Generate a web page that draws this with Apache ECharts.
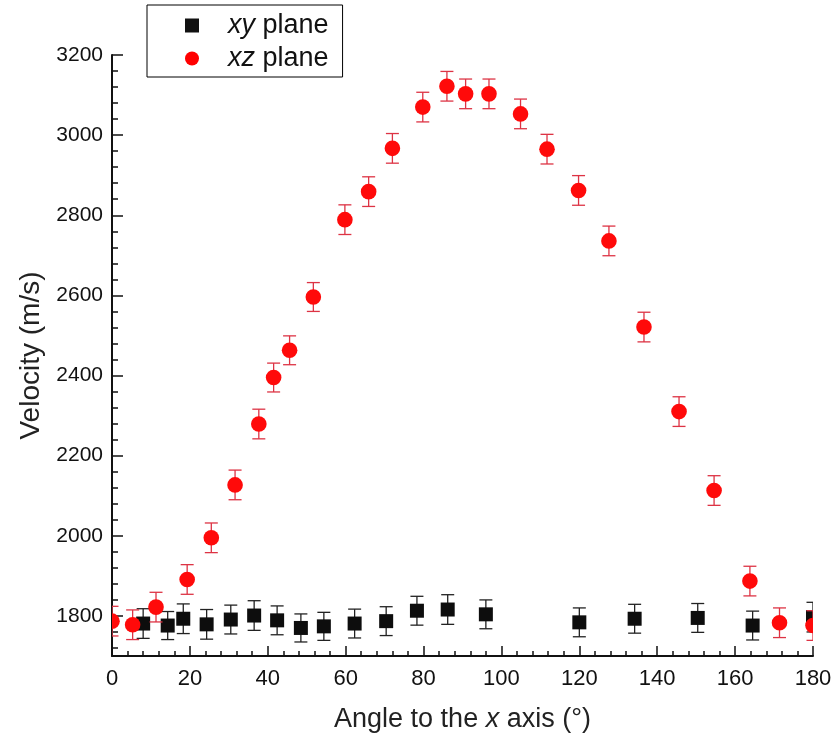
<!DOCTYPE html>
<html>
<head>
<meta charset="utf-8">
<script src="https://cdn.jsdelivr.net/npm/echarts@6/dist/echarts.min.js"></script>
<style>
html,body{margin:0;padding:0;background:#fff;}
#chart{width:836px;height:744px;}
</style>
</head>
<body>
<div id="chart"></div>
<script>
// ---- data ----
var angleXY = [8, 14.3, 18.3, 24.3, 30.5, 36.5, 42.4, 48.5, 54.4, 62.3, 70.4, 78.3, 86.2, 96, 120, 134.2, 150.4, 164.5, 180];
var velXY   = [1781, 1776, 1793, 1779, 1791, 1801, 1789, 1770, 1774, 1781, 1787, 1813, 1816, 1804, 1784, 1793, 1795, 1776, 1797];
var errXY   = [37, 35, 37, 37, 36, 37, 36, 35, 35, 36, 36, 36, 37, 36, 36, 36, 36, 36, 37];

var angleXZ = [0, 5.3, 11.3, 19.3, 25.5, 31.6, 37.7, 41.5, 45.6, 51.7, 59.8, 65.9, 72.0, 79.8, 86.0, 90.8, 96.8, 104.9, 111.7, 119.8, 127.6, 136.6, 145.6, 154.6, 163.8, 171.4, 180];
var velXZ   = [1787, 1778, 1822, 1891, 1995, 2127, 2279, 2395, 2463, 2596, 2789, 2859, 2967, 3070, 3122, 3103, 3103, 3053, 2965, 2862, 2736, 2521, 2310, 2113, 1887, 1783, 1776];
var errXZ   = [37, 37, 37, 37, 37, 37, 37, 36, 36, 36, 37, 37, 37, 37, 37, 37, 37, 37, 37, 37, 37, 37, 37, 37, 37, 37, 37];

var yTickValues = [1800, 2000, 2200, 2400, 2600, 2800, 3000, 3200];
var seriesNames = ['xy plane', 'xz plane'];

// ---- build ----
var FONT = "'Liberation Sans', Arial, sans-serif";
function zip(a, b, c) { return a.map(function (v, i) { return [v, b[i], c[i]]; }); }
var yMinorValues = [];
for (var v = 1720; v < 3200; v += 40) { if (v % 200 !== 0) yMinorValues.push(v); }

function makeRender(shape, fill, barColor) {
  return function (params, api) {
    var x = api.value(0), y = api.value(1), e = api.value(2);
    var p = api.coord([x, y]);
    var t = api.coord([x, y + e]);
    var b = api.coord([x, y - e]);
    var cw = 6.5;
    var ls = { stroke: barColor, lineWidth: 1.3 };
    var marker = shape === 'rect'
      ? { type: 'rect', shape: { x: p[0] - 7, y: p[1] - 7, width: 14, height: 14 }, style: { fill: fill } }
      : { type: 'circle', shape: { cx: p[0], cy: p[1], r: 7.8 }, style: { fill: fill } };
    return {
      type: 'group',
      children: [
        { type: 'line', shape: { x1: t[0], y1: t[1], x2: b[0], y2: b[1] }, style: ls },
        { type: 'line', shape: { x1: t[0] - cw, y1: t[1], x2: t[0] + cw, y2: t[1] }, style: ls },
        { type: 'line', shape: { x1: b[0] - cw, y1: b[1], x2: b[0] + cw, y2: b[1] }, style: ls },
        marker
      ]
    };
  };
}

var chart = echarts.init(document.getElementById('chart'), null, { renderer: 'canvas' });
chart.setOption({
  animation: false,
  backgroundColor: '#fff',
  grid: { left: 112, right: 23, top: 55, bottom: 88, containLabel: false },
  legend: {
    orient: 'vertical',
    left: 147, top: 5,
    padding: [7, 14, 5, 38],
    itemGap: 6,
    itemWidth: 14, itemHeight: 14,
    borderColor: '#000', borderWidth: 1,
    data: [{ name: seriesNames[0], icon: 'rect' }, { name: seriesNames[1], icon: 'circle' }],
    formatter: function (name) {
      var parts = name.split(' ');
      return '{s| }{i|' + parts[0] + '} ' + parts[1];
    },
    textStyle: {
      fontFamily: FONT, fontSize: 27, color: '#111',
      rich: {
        s: { width: 24, fontSize: 27 },
        i: { fontStyle: 'italic', fontFamily: FONT, fontSize: 27, color: '#111' }
      }
    }
  },
  xAxis: {
    type: 'value', min: 0, max: 180, interval: 20,
    name: 'Angle to the {i|x} axis (°)',
    nameLocation: 'middle', nameGap: 50,
    nameTextStyle: {
      fontFamily: FONT, fontSize: 27, color: '#222',
      rich: { i: { fontStyle: 'italic', fontFamily: FONT, fontSize: 27, color: '#222' } }
    },
    axisLine: { show: true, onZero: false, lineStyle: { color: '#111', width: 2 } },
    axisTick: { show: true, inside: true, length: 10, lineStyle: { color: '#111', width: 1.5 } },
    minorTick: { show: true, splitNumber: 5, length: 5, lineStyle: { color: '#111', width: 1.5 } },
    axisLabel: { fontFamily: FONT, fontSize: 22, color: '#111', margin: 12 },
    splitLine: { show: false }
  },
  yAxis: [{
    type: 'value', min: 1700, max: 3200,
    name: 'Velocity (m/s)',
    nameLocation: 'middle', nameGap: 65,
    nameTextStyle: { fontFamily: FONT, fontSize: 28, color: '#222' },
    axisLine: { show: true, onZero: false, lineStyle: { color: '#111', width: 2 } },
    axisTick: { show: true, inside: true, length: 11, customValues: yTickValues, lineStyle: { color: '#111', width: 1.5 } },
    axisLabel: {
      fontFamily: FONT, fontSize: 21, color: '#111', margin: 9, customValues: yTickValues,
      formatter: function (v) { return String(v); }
    },
    splitLine: { show: false }
  }, {
    type: 'value', min: 1700, max: 3200, position: 'left', offset: 0,
    axisLine: { show: false },
    axisTick: { show: true, inside: true, length: 6, customValues: yMinorValues, lineStyle: { color: '#111', width: 1.5 } },
    axisLabel: { show: false },
    splitLine: { show: false }
  }],
  series: [{
    name: seriesNames[0], type: 'custom', clip: true,
    itemStyle: { color: '#111' },
    encode: { x: 0, y: 1 },
    data: zip(angleXY, velXY, errXY),
    renderItem: makeRender('rect', '#0d0d0d', '#222')
  }, {
    name: seriesNames[1], type: 'custom', clip: true,
    itemStyle: { color: '#ff0000' },
    encode: { x: 0, y: 1 },
    data: zip(angleXZ, velXZ, errXZ),
    renderItem: makeRender('circle', '#ff0a0a', '#dd3344')
  }]
});
</script>
</body>
</html>
